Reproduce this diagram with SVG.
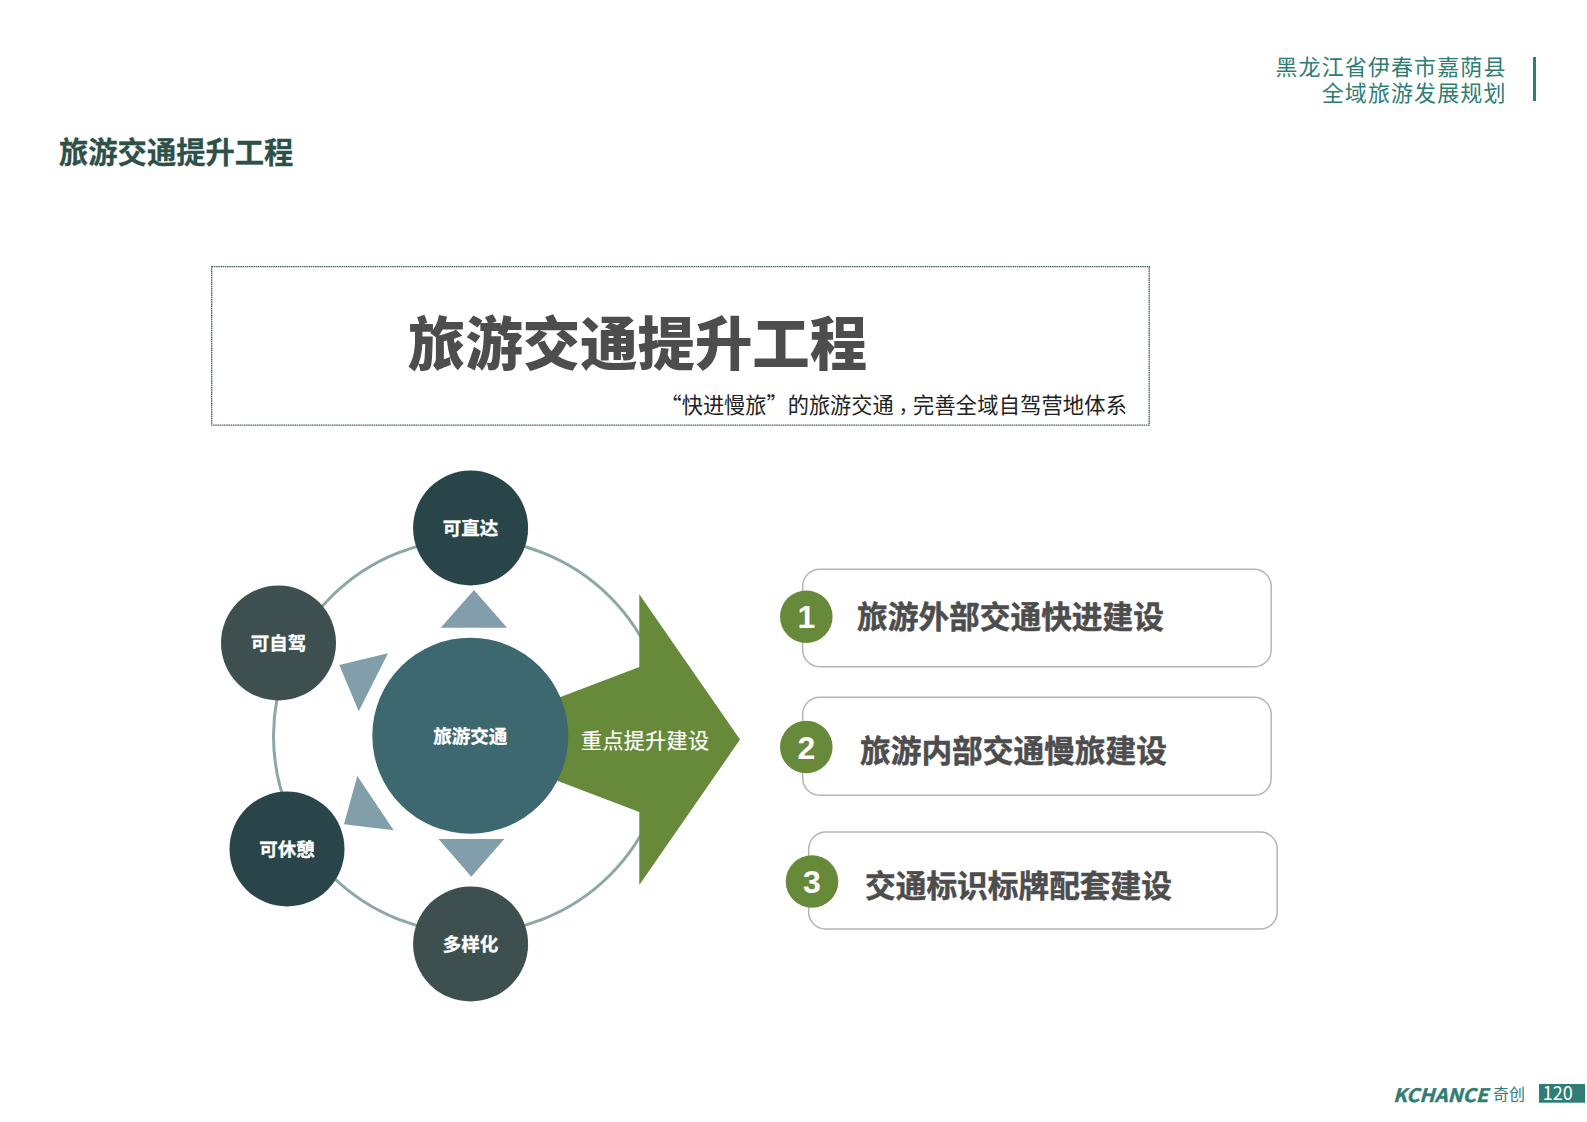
<svg xmlns="http://www.w3.org/2000/svg" width="1587" height="1122" viewBox="0 0 1587 1122">
<style>
text{font-family:"Noto Sans CJK SC","Noto Sans",sans-serif}
.hd{font-size:22px;fill:#2f7d74;text-anchor:end;letter-spacing:1.1px}
.nl{font-size:18.5px;font-weight:700;fill:#fff;text-anchor:middle;stroke:#fff;stroke-width:.3}
.box{fill:#fff;stroke:#b5b5b5;stroke-width:1.5}
.bt{font-size:30.7px;font-weight:700;fill:#4d4d4d;stroke:#4d4d4d;stroke-width:.5}
.num{fill:#678a3a}
.nt{font-family:"Liberation Sans",sans-serif;font-size:32px;font-weight:700;fill:#fff;text-anchor:middle}
.tri{fill:#829eaa}
.d1{fill:#294549}.d2{fill:#3e4f50}
</style>
<rect width="1587" height="1122" fill="#fff"/>
<g id="header">
<text class="hd"><tspan x="1506.5" y="75">黑龙江省伊春市嘉荫县</tspan><tspan x="1506.5" y="101">全域旅游发展规划</tspan></text>
<rect x="1533" y="57" width="3" height="44" fill="#2f7d74"/>
<text x="59" y="163" font-size="29.3" font-weight="700" fill="#2d5148" stroke="#2d5148" stroke-width=".3">旅游交通提升工程</text>
</g>
<g id="title-box">
<rect x="211.7" y="266.7" width="937.5" height="158.5" fill="#fff" stroke="#3f5a5a" stroke-width="1.3" stroke-dasharray="1.5 .7"/>
<text x="408" y="365" font-size="57.4" font-weight="900" fill="#4d4d4d">旅游交通提升工程</text>
<text y="413" font-size="21.2" fill="#222"><tspan x="660.5">“</tspan><tspan x="681.7">快进慢旅</tspan><tspan x="766.5">”</tspan><tspan x="787.7">的旅游交通</tspan><tspan x="893.7" dy="6" style="font-family:'Noto Sans CJK TC',sans-serif;font-size:19px">，</tspan><tspan x="913" dy="-6" letter-spacing=".22">完善全域自驾营地体系</tspan></text>
</g>
<g id="connectors">
<circle cx="470.5" cy="736" r="197" fill="none" stroke="#8da6a6" stroke-width="3"/>
<polygon class="tri" points="474,590 440.7,627.7 507,627.7"/>
<polygon class="tri" points="438.5,839 504.3,839 471.3,876.7"/>
<polygon class="tri" points="339.3,665 388,653.3 358.7,711.3"/>
<polygon class="tri" points="357.3,776 344,824.3 393.7,830.3"/>
</g>
<g id="arrow">
<polygon points="550,701 639.3,667 639.3,594.3 740,739.6 639.3,885 639.3,812 550,778" fill="#678a3a"/>
<text x="581" y="748" font-size="21" fill="#fff" stroke="#fff" stroke-width=".2" letter-spacing=".4">重点提升建设</text>
</g>
<g id="node-center"><circle cx="470.3" cy="735.7" r="98" fill="#3e6870"/><text class="nl" x="470.3" y="743">旅游交通</text></g>
<g id="node-top"><circle class="d1" cx="470.6" cy="528" r="57.5"/><text class="nl" x="470.6" y="535">可直达</text></g>
<g id="node-upper-left"><circle class="d2" cx="278.5" cy="643" r="57.5"/><text class="nl" x="278.5" y="650">可自驾</text></g>
<g id="node-lower-left"><circle class="d1" cx="287" cy="849" r="57.5"/><text class="nl" x="287" y="856">可休憩</text></g>
<g id="node-bottom"><circle class="d2" cx="470.6" cy="944" r="57.5"/><text class="nl" x="470.6" y="951">多样化</text></g>
<g id="item-1"><rect class="box" x="802.7" y="569.2" width="468.5" height="97.5" rx="17"/><circle class="num" cx="806.3" cy="616.7" r="26.3"/><text class="nt" x="806.3" y="628">1</text><text class="bt" x="857" y="628">旅游外部交通快进建设</text></g>
<g id="item-2"><rect class="box" x="802.7" y="697.2" width="468.5" height="98" rx="17"/><circle class="num" cx="806.3" cy="747" r="26.3"/><text class="nt" x="806.3" y="758.5">2</text><text class="bt" x="860" y="762">旅游内部交通慢旅建设</text></g>
<g id="item-3"><rect class="box" x="808.7" y="832" width="468.5" height="97" rx="17"/><circle class="num" cx="812" cy="881.5" r="26.3"/><text class="nt" x="812" y="893">3</text><text class="bt" x="865" y="897">交通标识标牌配套建设</text></g>
<g id="footer">
<text x="1393" y="1101.7" font-family="'Liberation Sans',sans-serif" font-size="18.5" font-weight="700" font-style="italic" fill="#2f7d74" stroke="#2f7d74" stroke-width=".4" textLength="95" lengthAdjust="spacingAndGlyphs">KCHANCE</text>
<text x="1493" y="1100" font-size="16" fill="#2f7d74">奇创</text>
<rect x="1539" y="1084" width="46" height="18.7" fill="#2f7d74"/>
<text x="1542.7" y="1100" font-family="'Liberation Sans',sans-serif" font-size="19.5" fill="#fff" textLength="30" lengthAdjust="spacingAndGlyphs">120</text>
</g>
</svg>
